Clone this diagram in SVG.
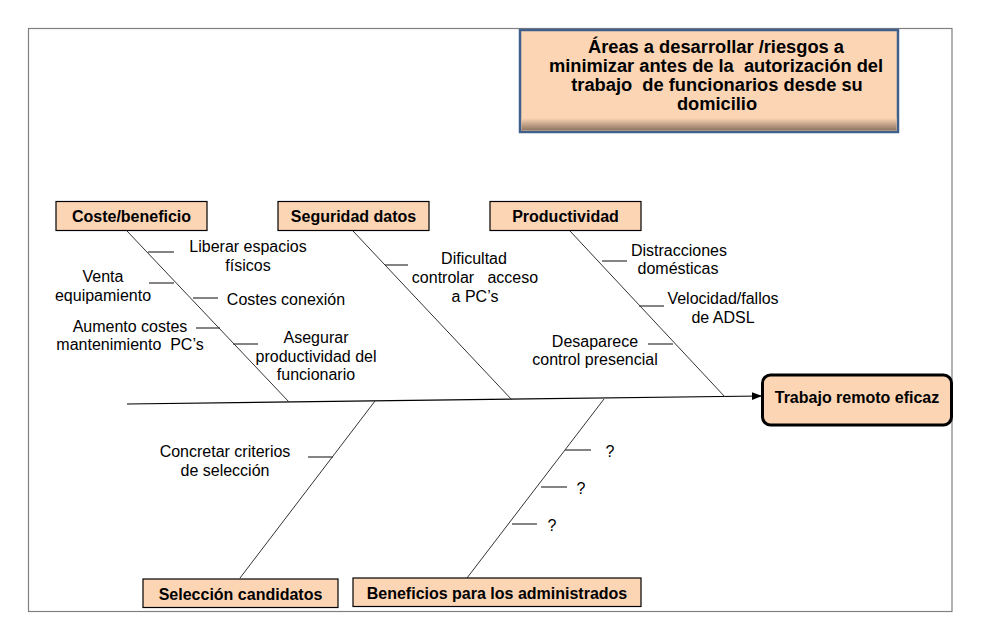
<svg xmlns="http://www.w3.org/2000/svg" width="982" height="641" viewBox="0 0 982 641" xml:space="preserve">
<defs>
<style>
.t{font-family:"Liberation Sans",Arial,sans-serif;font-size:16px;fill:#000;text-anchor:middle;dominant-baseline:central;white-space:pre}
.b{font-weight:bold}
.h{font-size:18.3px}
.box{fill:#FCD5B5;stroke:#000;stroke-width:1.2}
.bone{stroke:#333;stroke-width:1;fill:none}
.tick{stroke:#333;stroke-width:1.2;fill:none}
</style>
<marker id="arr" markerWidth="10" markerHeight="10" refX="9" refY="5" orient="auto" markerUnits="userSpaceOnUse">
<path d="M0,1 L10,5 L0,9 Z" fill="#000"/>
</marker>
<linearGradient id="sh" x1="0" y1="0" x2="0" y2="1">
<stop offset="0" stop-color="#FCD5B5"/>
<stop offset="1" stop-color="#8C7460"/>
</linearGradient>
</defs>
<rect width="982" height="641" fill="#fff"/>
<rect x="28.5" y="28.5" width="923.5" height="583" fill="none" stroke="#808080" stroke-width="1.2"/>

<g id="title">
<rect x="520" y="30" width="378" height="102" fill="#FCD5B5" stroke="#3F5F8C" stroke-width="2.5"/>
<rect x="521.5" y="118" width="375" height="12.5" fill="url(#sh)"/>
<text class="t b h" x="716" y="46">Áreas a desarrollar /riesgos a</text>
<text class="t b h" x="716" y="65">minimizar antes de la  autorización del</text>
<text class="t b h" x="717" y="84">trabajo  de funcionarios desde su</text>
<text class="t b h" x="717" y="103">domicilio</text>
</g>

<g id="connectors">
<line x1="127" y1="404" x2="761" y2="396" stroke="#000" stroke-width="1.2" marker-end="url(#arr)"/>
<line class="bone" x1="127" y1="231" x2="289" y2="402"/>
<line class="bone" x1="353" y1="231" x2="512" y2="400"/>
<line class="bone" x1="570" y1="231" x2="725" y2="397"/>
<line class="bone" x1="375" y1="401" x2="240" y2="578"/>
<line class="bone" x1="604" y1="399" x2="467" y2="578"/>
<line class="tick" x1="148" y1="252" x2="174" y2="252"/>
<line class="tick" x1="149" y1="283" x2="174" y2="283"/>
<line class="tick" x1="193" y1="298" x2="218" y2="298"/>
<line class="tick" x1="196" y1="328" x2="220" y2="328"/>
<line class="tick" x1="233" y1="344" x2="258" y2="344"/>
<line class="tick" x1="385" y1="265" x2="408" y2="265"/>
<line class="tick" x1="602" y1="261" x2="627" y2="261"/>
<line class="tick" x1="639" y1="306" x2="664" y2="306"/>
<line class="tick" x1="648" y1="344" x2="673" y2="344"/>
<line class="tick" x1="308" y1="457" x2="333" y2="457"/>
<line class="tick" x1="565" y1="450" x2="591" y2="450"/>
<line class="tick" x1="541" y1="487" x2="567" y2="487"/>
<line class="tick" x1="512" y1="524" x2="537" y2="524"/>
</g>

<g id="coste">
<rect class="box" x="56" y="201.5" width="151" height="29"/>
<text class="t b" x="131.5" y="216">Coste/beneficio</text>
</g>
<g id="seguridad">
<rect class="box" x="278" y="201.5" width="151" height="29"/>
<text class="t b" x="353.5" y="216">Seguridad datos</text>
</g>
<g id="productividad">
<rect class="box" x="490" y="201.5" width="151" height="29"/>
<text class="t b" x="565.5" y="216">Productividad</text>
</g>
<g id="seleccion">
<rect class="box" x="143" y="579" width="195" height="28.5"/>
<text class="t b" x="240.5" y="594">Selección candidatos</text>
</g>
<g id="beneficios">
<rect class="box" x="353" y="578" width="288" height="28.5"/>
<text class="t b" x="497" y="593">Beneficios para los administrados</text>
</g>
<g id="efecto">
<rect x="762.5" y="375" width="189" height="50" rx="8" ry="8" fill="#FCD5B5" stroke="#000" stroke-width="3"/>
<text class="t b" x="857" y="397">Trabajo remoto eficaz</text>
</g>

<g id="labels">
<text class="t" x="248" y="246">Liberar espacios</text>
<text class="t" x="248" y="265">físicos</text>
<text class="t" x="103" y="276">Venta</text>
<text class="t" x="103" y="295">equipamiento</text>
<text class="t" x="286" y="299">Costes conexión</text>
<text class="t" x="130" y="326">Aumento costes</text>
<text class="t" x="130" y="344">mantenimiento  PC’s</text>
<text class="t" x="316" y="337">Asegurar</text>
<text class="t" x="316" y="356">productividad del</text>
<text class="t" x="316" y="374">funcionario</text>
<text class="t" x="474" y="258">Dificultad</text>
<text class="t" x="475" y="277">controlar   acceso</text>
<text class="t" x="475" y="296">a PC’s</text>
<text class="t" x="679" y="250">Distracciones</text>
<text class="t" x="678" y="268">domésticas</text>
<text class="t" x="723" y="298">Velocidad/fallos</text>
<text class="t" x="723" y="317">de ADSL</text>
<text class="t" x="595" y="341">Desaparece</text>
<text class="t" x="595" y="359">control presencial</text>
<text class="t" x="225" y="451">Concretar criterios</text>
<text class="t" x="225" y="470">de selección</text>
<text class="t" x="610" y="451">?</text>
<text class="t" x="581" y="488">?</text>
<text class="t" x="552" y="525">?</text>
</g>
</svg>
